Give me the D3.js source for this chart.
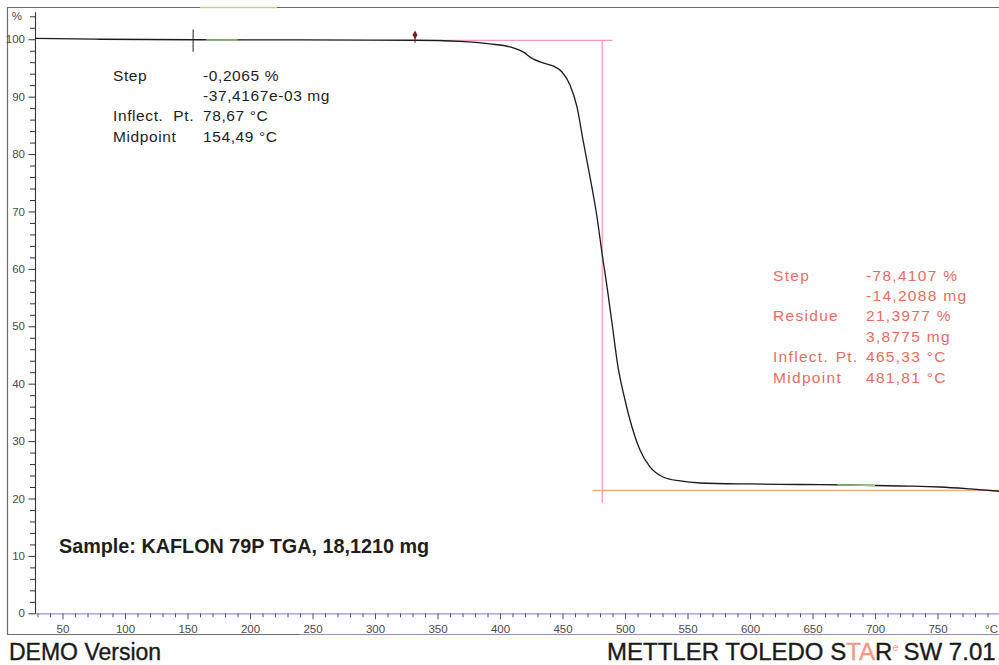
<!DOCTYPE html>
<html>
<head>
<meta charset="utf-8">
<script src="https://cdn.jsdelivr.net/npm/d3@7"></script>
<style>
  html, body { margin: 0; padding: 0; background: #fff; }
  svg { display: block; font-family: "Liberation Sans", Arial, sans-serif; }
</style>
</head>
<body>
<svg id="chart" width="999" height="665"></svg>
<script>
// TGA curve: sample mass (% of initial) against temperature (°C)
const temperatureC = [28, 80, 154.4, 240, 332, 368, 392, 408, 418.4, 426.4, 434.4, 442.4, 449.6, 456,
  461.6, 466.4, 472, 477.6, 482.4, 484, 489.6, 494.4, 500, 505.6, 512, 520, 530.4, 544, 560,
  600, 640, 680, 720, 752, 776, 800];
const massPct = [100.14, 100.0, 99.91, 99.88, 99.83, 99.62, 99.18, 98.66, 97.79, 96.57, 95.87, 95.35, 94.30, 92.04,
  88.21, 82.46, 76.01, 69.04, 61.55, 59.29, 50.57, 42.91, 37.16, 32.46, 28.45, 25.49, 23.74, 23.05, 22.70,
  22.53, 22.44, 22.35, 22.18, 22.0, 21.66, 21.25];

// Axis ticks
const xTickValues = d3.range(30, 801, 10);
const xLabelValues = [50, 100, 150, 200, 250, 300, 350, 400, 450, 500, 550, 600, 650, 700, 750];
const yTickValues = d3.range(0, 105, 2);
const yLabelValues = [0, 10, 20, 30, 40, 50, 60, 70, 80, 90, 100];

// Evaluation 1: small step near 150 °C
const step1Labels = ["Step", "", "Inflect. Pt.", "Midpoint"];
const step1Values = ["-0,2065 %", "-37,4167e-03 mg", "78,67 °C", "154,49 °C"];
const step1Midpoint = 154.49;
const step1Level = 99.91;

// Evaluation 2: main decomposition step
const step2Labels = ["Step", "", "Residue", "", "Inflect. Pt.", "Midpoint"];
const step2Values = ["-78,4107 %", "-14,2088 mg", "21,3977 %", "3,8775 mg", "465,33 °C", "481,81 °C"];
const step2Start = 99.8084;
const step2Residue = 21.3977;
const step2Midpoint = 481.81;
const step2Range = [352, 490];
const residueRange = [474, 800];

const markerTemp = 332;
const markerPct = 100.75;

const svg = d3.select("#chart");

const x = d3.scaleLinear().domain([28, 800]).range([35, 1000]);
const y = d3.scaleLinear().domain([0, 104.8]).range([613.3, 11.7]);

// Outer frame
svg.append("path")
  .attr("d", "M999,7.5H7.5V634.5H999")
  .attr("fill", "none").attr("stroke", "#6d6d6d").attr("stroke-width", 1.2);
svg.append("line")
  .attr("x1", 200).attr("x2", 277).attr("y1", 7.5).attr("y2", 7.5)
  .attr("stroke", "#b5dc82").attr("stroke-width", 1.5);
svg.append("line")
  .attr("x1", 300).attr("x2", 999).attr("y1", 634.5).attr("y2", 634.5)
  .attr("stroke", "#9a8fb8").attr("stroke-width", 1);

// X axis
const xAxis = d3.axisBottom(x)
  .tickValues(xTickValues)
  .tickSize(6).tickPadding(6).tickSizeOuter(0)
  .tickFormat(d => d === 800 ? "°C" : (xLabelValues.includes(d) ? d : ""));
const gx = svg.append("g").attr("transform", `translate(0,${y(0)})`).call(xAxis);
gx.select(".domain").attr("stroke", "#a88ad8").attr("stroke-width", 1.3);
gx.selectAll(".tick line")
  .attr("stroke", "#555")
  .attr("y2", d => d % 50 === 0 ? 6 : 4);
gx.selectAll(".tick text")
  .attr("fill", "#4a4a4a").attr("font-size", 11.5)
  .attr("dx", d => d === 800 ? -9 : 0);

// Y axis
const yAxis = d3.axisLeft(y)
  .tickValues(yTickValues)
  .tickSize(6).tickPadding(4).tickSizeOuter(0)
  .tickFormat(d => d === 104 ? "%" : (yLabelValues.includes(d) ? d : ""));
const gy = svg.append("g").attr("transform", `translate(${x(28)},0)`).call(yAxis);
gy.select(".domain").attr("stroke", "#333").attr("stroke-width", 1.1);
gy.selectAll(".tick line").attr("stroke", "#333")
  .attr("x2", d => d % 10 === 0 && d <= 100 ? -6.5 : -5);
gy.selectAll(".tick text")
  .attr("fill", "#4a4a4a").attr("font-size", 11.5)
  .attr("dx", d => d === 104 ? -3 : 0);

// Evaluation lines for the main step
svg.append("line")
  .attr("x1", x(step2Range[0])).attr("x2", x(step2Range[1]))
  .attr("y1", y(step2Start)).attr("y2", y(step2Start))
  .attr("stroke", "#f09cc4").attr("stroke-width", 1.2);
svg.append("line")
  .attr("x1", x(step2Midpoint)).attr("x2", x(step2Midpoint))
  .attr("y1", y(step2Start)).attr("y2", y(19.2))
  .attr("stroke", "#f29ac2").attr("stroke-width", 1.2);
svg.append("line")
  .attr("x1", x(residueRange[0])).attr("x2", x(residueRange[1]))
  .attr("y1", y(step2Residue)).attr("y2", y(step2Residue))
  .attr("stroke", "#eeaa88").attr("stroke-width", 1.2);

// Measured curve
const line = d3.line()
  .x((d, i) => x(temperatureC[i]))
  .y(d => y(d))
  .curve(d3.curveMonotoneX);
svg.append("path")
  .datum(massPct)
  .attr("d", line)
  .attr("fill", "none").attr("stroke", "#1a1a1a").attr("stroke-width", 1.3);

// Evaluation limit highlights on the curve
const segLine = d3.line().x(d => x(d[0])).y(d => y(d[1]));
const interp = t => {
  const i = d3.bisectLeft(temperatureC, t);
  const t0 = temperatureC[i - 1], t1 = temperatureC[i];
  const f = (t - t0) / (t1 - t0);
  return massPct[i - 1] + f * (massPct[i] - massPct[i - 1]);
};
[[165, 190], [670, 700]].forEach(([a, b]) => {
  svg.append("path")
    .attr("d", segLine([[a, interp(a)], [b, interp(b)]]))
    .attr("stroke", "#8fd07a").attr("stroke-width", 1.3).attr("fill", "none");
});

// Step 1 midpoint cross
svg.append("line")
  .attr("x1", x(step1Midpoint)).attr("x2", x(step1Midpoint))
  .attr("y1", y(step1Level + 1.8)).attr("y2", y(step1Level - 2.1))
  .attr("stroke", "#222").attr("stroke-width", 1);

// Marker above curve
svg.append("line")
  .attr("x1", x(markerTemp)).attr("x2", x(markerTemp))
  .attr("y1", y(markerPct)).attr("y2", y(markerPct - 1.4))
  .attr("stroke", "#5a2020").attr("stroke-width", 1);
svg.append("path")
  .attr("d", d3.symbol(d3.symbolDiamond, 22)())
  .attr("transform", `translate(${x(markerTemp)},${y(markerPct)})`)
  .attr("fill", "#7a1f1f");

// Result tables
function table(labels, values, lx, vx, y0, color, spacing, wordSpacing) {
  const g = svg.append("g").attr("fill", color).attr("font-size", 15.5)
    .attr("letter-spacing", spacing);
  labels.forEach((t, i) => {
    if (t) g.append("text").attr("x", lx).attr("y", y0 + i * 20.4)
      .attr("word-spacing", wordSpacing).text(t);
  });
  values.forEach((t, i) => {
    g.append("text").attr("x", vx).attr("y", y0 + i * 20.4).text(t);
  });
}
table(step1Labels, step1Values, 113, 203, 80.5, "#1e1e1e", 0.6, 5);
table(step2Labels, step2Values, 773, 866, 280.5, "#e56e62", 1.3, 1);

// Sample description
svg.append("text")
  .attr("x", 59).attr("y", 553)
  .attr("font-size", 19.8).attr("font-weight", "bold").attr("fill", "#1e1e1e")
  .text("Sample: KAFLON 79P TGA, 18,1210 mg");

// Footer
svg.append("text")
  .attr("x", 9).attr("y", 659.5)
  .attr("font-size", 23).attr("fill", "#1a1a1a")
  .attr("stroke", "#1a1a1a").attr("stroke-width", 0.35)
  .text("DEMO Version");
const brand = svg.append("text")
  .attr("x", 607).attr("y", 659.5)
  .attr("font-size", 24).attr("fill", "#1a1a1a")
  .attr("stroke", "#1a1a1a").attr("stroke-width", 0.35);
brand.append("tspan").text("METTLER TOLEDO S");
brand.append("tspan").attr("fill", "#f29a86").attr("stroke", "#f29a86").text("TA");
brand.append("tspan").text("R");
brand.append("tspan").attr("fill", "#f29a86").attr("stroke", "none").attr("font-size", 11).attr("dy", -9).text("e");
brand.append("tspan").attr("dy", 9).attr("dx", 5).text("SW 7.01");
</script>
</body>
</html>
